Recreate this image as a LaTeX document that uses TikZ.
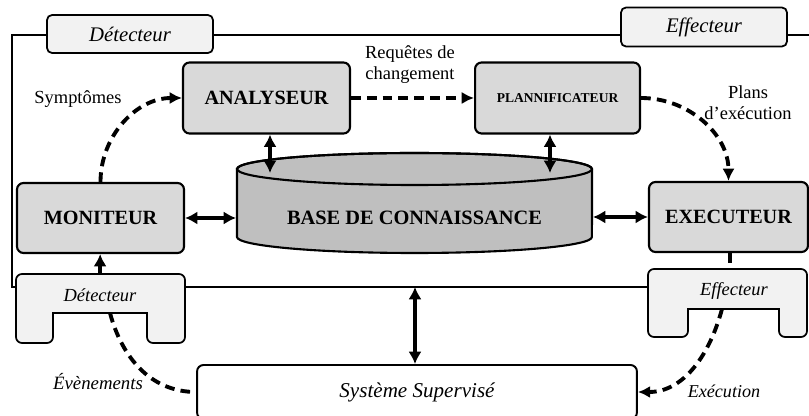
\documentclass[tikz,border=0pt]{standalone}
\usepackage{fontspec}
\setmainfont{Liberation Serif}
\usetikzlibrary{arrows.meta,positioning}

\begin{document}
\begin{tikzpicture}[x=0.02cm, y=0.02cm, node distance=0.4cm and 0.4cm,
    box/.style={draw, line width=1.2pt, rounded corners=0.13cm, fill=black!15, font=\fontsize{11.5}{13}\selectfont\bfseries},
    sensor/.style={draw, line width=1pt, rounded corners=0.1cm, fill=black!5, font=\fontsize{11.8}{14}\selectfont\itshape},
    link/.style={line width=2.1pt, {Latex[length=7pt,width=7.5pt]}-{Latex[length=7pt,width=7.5pt]}},
    flow/.style={line width=2.2pt, dash pattern=on 5.5pt off 3.5pt},
    tip/.style={-{Latex[length=7pt,width=7pt]}},
    lbl/.style={align=center, font=\fontsize{10.5}{12}\selectfont}]
      \useasboundingbox (0,0) rectangle (809,416);
      \clip (0,0) rectangle (809,416);

      % frame of the managed element
      \draw[line width=0.7pt] (809,381) -- (12,381) -- (12,129) -- (648,129);

      \node[sensor, minimum width=3.32cm, minimum height=0.76cm] (dett) at (130,382) {Détecteur};
      \node[sensor, minimum width=3.32cm, minimum height=0.78cm] (efft) at (704,389) {Effecteur};

      \node[box, minimum width=3.34cm, minimum height=1.42cm] (ana) at (266.5,318) {ANALYSEUR};
      \node[box, minimum width=3.3cm, minimum height=1.42cm, font=\fontsize{7.7}{9}\selectfont\bfseries] (plan) [right=2.46cm of ana] {PLANNIFICATEUR};
      \node[box, minimum width=3.34cm, minimum height=1.4cm] (mon) at (100.5,198) {MONITEUR};
      \node[box, minimum width=3.18cm, minimum height=1.4cm] (exe) at (728.5,199) {EXECUTEUR};

      % knowledge base
      \filldraw[line width=1.2pt, fill=black!25] (237,247) -- (237,179)
        arc[start angle=180, end angle=360, x radius=3.55cm, y radius=0.32cm] -- (592,247)
        arc[start angle=0, end angle=180, x radius=3.55cm, y radius=0.32cm] -- cycle;
      \draw[line width=1.2pt] (414.5,247) ellipse [x radius=3.55cm, y radius=0.32cm];
      \node[font=\fontsize{11.6}{13}\selectfont\bfseries] (base) at (414.5,198) {BASE DE CONNAISSANCE};
      \coordinate (base-w) at (236,198);
      \coordinate (base-e) at (593,199);
      \coordinate (base-a) at (270,243);
      \coordinate (base-p) at (550,243);

      % sensor and effector of the managed system
      \filldraw[line width=1pt, fill=black!5] (16,142) [rounded corners=0.12cm] -- (185,142) -- (185,73) -- (147,73)
        [sharp corners] -- (147,103) -- (53,103) [rounded corners=0.12cm] -- (53,73) -- (16,73) -- cycle;
      \node[font=\fontsize{10.5}{12}\selectfont\itshape] (detb) at (100,121) {Détecteur};
      \coordinate (detb-in) at (100,142);
      \coordinate (detb-out) at (110,103);

      \filldraw[line width=1pt, fill=black!5] (648,147) [rounded corners=0.12cm] -- (807,147) -- (807,79) -- (779,79)
        [sharp corners] -- (779,107) -- (688,107) [rounded corners=0.12cm] -- (688,79) -- (648,79) -- cycle;
      \node[font=\fontsize{10.5}{12}\selectfont\itshape] (effb) at (734,125) {Effecteur};
      \coordinate (effb-in) at (730,147);
      \coordinate (effb-out) at (722,107);

      \node[draw, line width=1.1pt, rounded corners=0.13cm, minimum width=8.8cm, minimum height=1.08cm,
        font=\fontsize{12}{14}\selectfont\itshape] (sys) at (417,24) {Système Supervisé};
      \coordinate (bus) at (415,129);

      \node[lbl] (sym) at (78,317) {Symptômes};
      \node[lbl] (req) at (410,351.5) {Requêtes de\\changement};
      \node[lbl] (pla) at (748,313) {Plans\\d’exécution};
      \node[lbl, font=\fontsize{10.7}{12}\selectfont\itshape] (evt) at (98,34) {Évènements};
      \node[lbl, font=\fontsize{10.3}{12}\selectfont\itshape] (exc) at (724,25) {Exécution};

      \draw[link] (mon) -- (base-w);
      \draw[link] (base-e) -- (exe);
      \draw[link] (base-a |- ana.south) -- (base-a);
      \draw[link] (base-p |- plan.south) -- (base-p);
      \draw[link] (bus) -- (bus |- sys.north);
      \draw[line width=2.1pt, -{Latex[length=7pt,width=7.5pt]}] (detb-in) -- (mon);

      \draw[flow, tip] (mon.north) to[out=90, in=180] (ana.west);
      \draw[flow, tip] (ana) -- (plan);
      \draw[flow, tip] (plan.east) to[out=0, in=90] (exe.north);
      \draw[flow] (effb-in |- exe.south) -- (effb-in);
      \draw[flow] (detb-out) to[out=-75, in=180] (sys.west);
      \draw[flow, tip] (effb-out) to[out=-105, in=0] (sys.east);
    \end{tikzpicture}
\end{document}
